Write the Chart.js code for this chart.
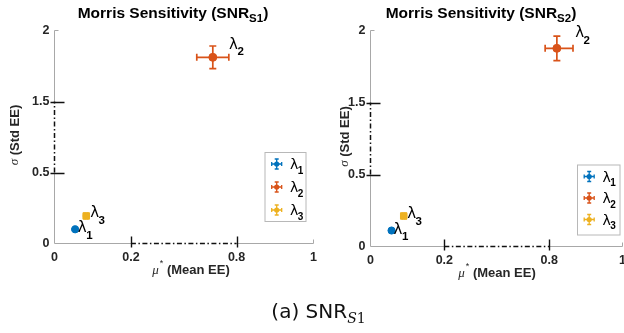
<!DOCTYPE html>
<html>
<head>
<meta charset="utf-8">
<script src="https://cdn.jsdelivr.net/npm/chart.js@4.4.1/dist/chart.umd.min.js"></script>
<style>
  html, body { margin: 0; padding: 0; background: #fff; overflow: hidden; width: 624px; height: 333px; }
  #wrap { position: relative; width: 624px; height: 333px; overflow: hidden; }
  canvas { position: absolute; top: 0; }
  #c1 { left: 0; }
  #c2 { left: 312px; }
  #caption { position: absolute; left: 0; top: 301px; width: 637px; text-align: center;
             font-family: 'DejaVu Sans'; font-size: 20px; line-height: 20px; color: #111; }
  #capS { font-family: 'DejaVu Serif'; font-style: italic; font-size: 14px; position: relative; top: 5px; }
  #cap1 { font-family: 'DejaVu Serif'; font-size: 14px; position: relative; top: 5px; }
</style>
</head>
<body>
<div id="wrap">
  <canvas id="c1" width="340" height="333"></canvas>
  <canvas id="c2" width="340" height="333"></canvas>
  <div id="caption">(a) SNR<span id="capS">S</span><span id="cap1">1</span></div>
</div>
<script>
// --- DATOS ---
const paramSubs = ["1", "2", "3"]; // λ1, λ2, λ3
const xTicks = [0, 0.2, 0.8, 1];
const xTickLabels = ["0", "0.2", "0.8", "1"];
const yTicks = [0, 0.5, 1.5, 2];
const yTickLabels = ["0", "0.5", "1.5", "2"];

// SNR S1
const muS1 = [0.054, 0.665, 0.083];
const sigmaS1 = [0.100, 1.811, 0.194];
const muErrS1 = [0.003, 0.091, 0.003];
const sigmaErrS1 = [0.004, 0.080, 0.004];

// SNR S2
const muS2 = [0.057, 0.821, 0.090];
const sigmaS2 = [0.111, 1.876, 0.212];
const muErrS2 = [0.003, 0.044, 0.003];
const sigmaErrS2 = [0.004, 0.085, 0.004];

// --- ESTILOS ---
const colores = ["#0072BD", "#D95319", "#EDB120"];
const marcadores = ["circle", "circle", "rect"];
const radios = [3.6, 4, 4.6];
const FONT = "'Liberation Sans', Arial, sans-serif";
const W = 340, H = 333;

const paneles = [
  { canvas: "c1", sub: "S1", mu: muS1, sigma: sigmaS1, muErr: muErrS1, sigmaErr: sigmaErrS1,
    area: { left: 54.5, right: 313.5, top: 30.5, bottom: 243.5 }, xFracs: [0, 0.295, 0.703, 1],
    titleX: 173, xLabelX: 191, yLabelX: 15,
    legend: { x: 265, y: 152.5, w: 41, h: 69, row: 23 },
    labelOffsets: [[2.7, 3], [16.3, -8.6], [4, 1.3]] },
  { canvas: "c2", sub: "S2", mu: muS2, sigma: sigmaS2, muErr: muErrS2, sigmaErr: sigmaErrS2,
    area: { left: 58.5, right: 310.5, top: 30.5, bottom: 246.5 }, xFracs: [0, 0.293, 0.709, 1],
    titleX: 169, xLabelX: 185, yLabelX: 33,
    legend: { x: 265.5, y: 165, w: 42.5, h: 70, row: 21.5 },
    labelOffsets: [[2, 3.3], [18.3, -11], [3.4, 2.3]] }
];

// --- ESCALA CON CORTE (eje partido) ---
class EscalaCortada extends Chart.LinearScale {
  getPixelForValue(value) {
    const v = this.cortes, f = this.fracs;
    if (!v) return super.getPixelForValue(value);
    let i = 0;
    while (i < v.length - 2 && value > v[i + 1]) i++;
    const t = f[i] + (value - v[i]) / (v[i + 1] - v[i]) * (f[i + 1] - f[i]);
    return this.getPixelForDecimal(t);
  }
  getValueForPixel(pixel) {
    const v = this.cortes, f = this.fracs;
    if (!v) return super.getValueForPixel(pixel);
    const t = this.getDecimalForPixel(pixel);
    let i = 0;
    while (i < f.length - 2 && t > f[i + 1]) i++;
    return v[i] + (t - f[i]) / (f[i + 1] - f[i]) * (v[i + 1] - v[i]);
  }
}
EscalaCortada.id = "cortada";
EscalaCortada.defaults = Chart.LinearScale.defaults;
Chart.register(EscalaCortada);

// --- TEXTO CON SUB/SUPERÍNDICES ---
function textoMixto(ctx, partes, x, y, align) {
  let w = 0;
  partes.forEach(s => { ctx.font = s.font; s.w = ctx.measureText(s.t).width + (s.gap || 0); w += s.w; });
  let cx = align === "center" ? x - w / 2 : x;
  ctx.textAlign = "left";
  partes.forEach(s => { ctx.font = s.font; ctx.fillText(s.t, cx, y + (s.dy || 0)); cx += s.w; });
}

function dibujarEjes(chart) {
  const ctx = chart.ctx, xs = chart.scales.x, ys = chart.scales.y, a = chart.chartArea;
  const X = v => xs.getPixelForValue(v), Y = v => ys.getPixelForValue(v);
  const B = a.bottom, L = a.left;
  ctx.save();
  ctx.strokeStyle = "#a8a8a8";
  ctx.lineWidth = 1;
  ctx.beginPath();
  ctx.moveTo(X(xTicks[0]), B); ctx.lineTo(X(xTicks[1]), B);
  ctx.moveTo(X(xTicks[2]), B); ctx.lineTo(X(xTicks[3]), B);
  ctx.moveTo(L, Y(yTicks[0])); ctx.lineTo(L, Y(yTicks[1]));
  ctx.moveTo(L, Y(yTicks[2])); ctx.lineTo(L, Y(yTicks[3]));
  ctx.moveTo(Math.round(X(xTicks[3])) - 0.5, B); ctx.lineTo(Math.round(X(xTicks[3])) - 0.5, B - 4);
  ctx.moveTo(L, Y(yTicks[3])); ctx.lineTo(L + 4, Y(yTicks[3]));
  ctx.stroke();

  ctx.strokeStyle = "#111";
  ctx.lineWidth = 1.5;
  ctx.setLineDash([5, 2.5, 1.5, 2.5]);
  ctx.beginPath();
  ctx.moveTo(X(xTicks[1]), B); ctx.lineTo(X(xTicks[2]), B);
  ctx.moveTo(L, Y(yTicks[1])); ctx.lineTo(L, Y(yTicks[2]));
  ctx.stroke();
  ctx.setLineDash([]);

  ctx.lineWidth = 1.4;
  ctx.beginPath();
  [xTicks[1], xTicks[2]].forEach(v => {
    const x = Math.round(X(v)) + 0.5;
    ctx.moveTo(x, B - 7); ctx.lineTo(x, B + 4);
  });
  [yTicks[1], yTicks[2]].forEach(v => {
    const y = Math.round(Y(v)) + 0.5;
    ctx.moveTo(L - 4, y); ctx.lineTo(L + 10, y);
  });
  ctx.stroke();
  ctx.restore();
}

function dibujarBarrasError(chart, p) {
  const ctx = chart.ctx, xs = chart.scales.x, ys = chart.scales.y;
  const cap = 3.5;
  ctx.save();
  ctx.lineWidth = 1.7;
  p.mu.forEach((m, i) => {
    const s = p.sigma[i];
    const cx = xs.getPixelForValue(m), cy = ys.getPixelForValue(s);
    const x0 = xs.getPixelForValue(m - p.muErr[i]), x1 = xs.getPixelForValue(m + p.muErr[i]);
    const y0 = ys.getPixelForValue(s - p.sigmaErr[i]), y1 = ys.getPixelForValue(s + p.sigmaErr[i]);
    ctx.strokeStyle = colores[i];
    ctx.beginPath();
    ctx.moveTo(x0, cy); ctx.lineTo(x1, cy);
    ctx.moveTo(x0, cy - cap); ctx.lineTo(x0, cy + cap);
    ctx.moveTo(x1, cy - cap); ctx.lineTo(x1, cy + cap);
    ctx.moveTo(cx, y0); ctx.lineTo(cx, y1);
    ctx.moveTo(cx - cap, y0); ctx.lineTo(cx + cap, y0);
    ctx.moveTo(cx - cap, y1); ctx.lineTo(cx + cap, y1);
    ctx.stroke();
  });
  ctx.restore();
}

function dibujarTextos(chart, p) {
  const ctx = chart.ctx, xs = chart.scales.x, ys = chart.scales.y, a = chart.chartArea;
  ctx.save();
  ctx.fillStyle = "#000";
  ctx.textBaseline = "alphabetic";

  // título
  textoMixto(ctx, [
    { t: "Morris Sensitivity (SNR", font: "bold 15.5px " + FONT },
    { t: p.sub, font: "bold 11.5px " + FONT, dy: 4 },
    { t: ")", font: "bold 15.5px " + FONT }
  ], p.titleX, 17.5, "center");

  // etiqueta eje x
  ctx.fillStyle = "#262626";
  textoMixto(ctx, [
    { t: "μ", font: "italic 13px 'Liberation Serif', serif", gap: 1 },
    { t: "*", font: "9px " + FONT, dy: -8 },
    { t: " (Mean EE)", font: "bold 13px " + FONT }
  ], p.xLabelX, a.bottom + 30.5, "center");

  // etiqueta eje y
  ctx.save();
  ctx.translate(p.yLabelX, (a.top + a.bottom) / 2 - 2);
  ctx.rotate(-Math.PI / 2);
  ctx.textBaseline = "middle";
  textoMixto(ctx, [
    { t: "σ", font: "italic 13px 'Liberation Serif', serif" },
    { t: " (Std EE)", font: "bold 13px " + FONT }
  ], 0, 0, "center");
  ctx.restore();

  // etiquetas de los puntos
  ctx.fillStyle = "#000";
  p.mu.forEach((m, i) => {
    const px = xs.getPixelForValue(m), py = ys.getPixelForValue(p.sigma[i]);
    const [dx, dy] = p.labelOffsets[i];
    textoMixto(ctx, [
      { t: "λ", font: "15px 'DejaVu Sans', sans-serif", gap: -0.5 },
      { t: paramSubs[i], font: "bold 11.5px " + FONT, dy: 6.5 }
    ], px + dx, py + dy, "left");
  });

  // leyenda
  const lg = p.legend;
  ctx.fillStyle = "#fff";
  ctx.fillRect(lg.x, lg.y, lg.w, lg.h);
  ctx.strokeStyle = "#b8b8b8";
  ctx.lineWidth = 1;
  ctx.strokeRect(lg.x, lg.y, lg.w, lg.h);
  paramSubs.forEach((sub, i) => {
    const gy = lg.y + 11.5 + i * lg.row, gx = lg.x + 11.7;
    const h = 5, cap = 2;
    ctx.strokeStyle = colores[i];
    ctx.lineWidth = 1.3;
    ctx.beginPath();
    ctx.moveTo(gx - h, gy); ctx.lineTo(gx + h, gy);
    ctx.moveTo(gx - h, gy - cap); ctx.lineTo(gx - h, gy + cap);
    ctx.moveTo(gx + h, gy - cap); ctx.lineTo(gx + h, gy + cap);
    ctx.moveTo(gx, gy - h); ctx.lineTo(gx, gy + h);
    ctx.moveTo(gx - cap, gy - h); ctx.lineTo(gx + cap, gy - h);
    ctx.moveTo(gx - cap, gy + h); ctx.lineTo(gx + cap, gy + h);
    ctx.stroke();
    ctx.fillStyle = colores[i];
    ctx.beginPath();
    ctx.arc(gx, gy, 2.6, 0, Math.PI * 2);
    ctx.fill();
    ctx.fillStyle = "#000";
    textoMixto(ctx, [
      { t: "λ", font: "14px 'DejaVu Sans', sans-serif", gap: -0.5 },
      { t: sub, font: "bold 10px " + FONT, dy: 4.5 }
    ], lg.x + 25, gy + 5, "left");
  });
  ctx.restore();
}

// --- CREAR GRÁFICOS ---
paneles.forEach(p => {
  const decor = {
    id: "decor_" + p.canvas,
    beforeDatasetsDraw(chart) { dibujarEjes(chart); dibujarBarrasError(chart, p); },
    afterDraw(chart) { dibujarTextos(chart, p); }
  };

  new Chart(document.getElementById(p.canvas).getContext("2d"), {
    type: "scatter",
    data: {
      datasets: paramSubs.map((s, i) => ({
        label: "λ" + s,
        data: [{ x: p.mu[i], y: p.sigma[i] }],
        backgroundColor: colores[i],
        borderColor: colores[i],
        pointStyle: marcadores[i],
        pointRadius: radios[i],
        pointBorderWidth: 1
      }))
    },
    options: {
      responsive: false,
      animation: false,
      events: [],
      layout: { padding: { left: 0, top: p.area.top, right: W - p.area.right, bottom: 0 } },
      plugins: { legend: { display: false }, tooltip: { enabled: false }, title: { display: false } },
      scales: {
        x: {
          type: "cortada", min: 0, max: 1,
          grid: { display: false, drawTicks: false },
          border: { display: false },
          beforeUpdate: s => { s.cortes = xTicks; s.fracs = p.xFracs; },
          afterBuildTicks: s => { s.ticks = xTicks.map(v => ({ value: v })); },
          afterFit: s => { s.height = H - p.area.bottom; },
          ticks: {
            callback: (v, i) => xTickLabels[i],
            font: { family: FONT, size: 12.5, weight: "bold" },
            color: "#262626", padding: 7, maxRotation: 0, autoSkip: false
          }
        },
        y: {
          type: "cortada", min: 0, max: 2,
          grid: { display: false, drawTicks: false },
          border: { display: false },
          beforeUpdate: s => { s.cortes = yTicks; s.fracs = [0, 1 / 3, 2 / 3, 1]; },
          afterBuildTicks: s => { s.ticks = yTicks.map(v => ({ value: v })); },
          afterFit: s => { s.width = p.area.left; },
          ticks: {
            callback: (v, i) => yTickLabels[i],
            font: { family: FONT, size: 12.5, weight: "bold" },
            color: "#262626", padding: 5, autoSkip: false
          }
        }
      }
    },
    plugins: [decor]
  });
});
</script>
</body>
</html>
